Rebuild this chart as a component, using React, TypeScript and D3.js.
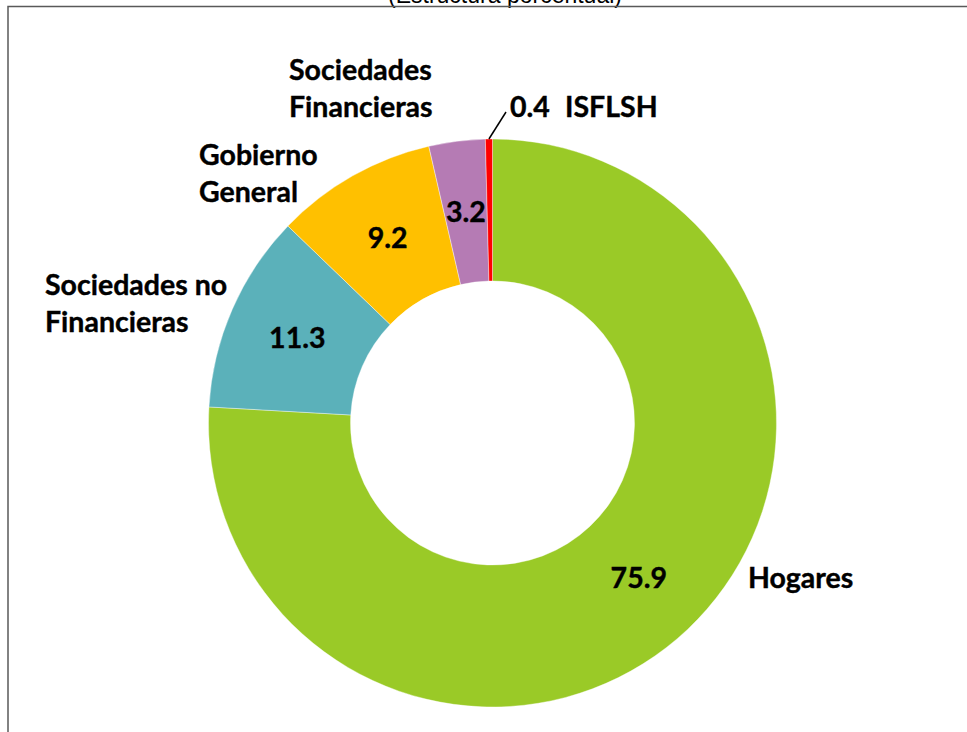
import React from "react";
import * as d3 from "d3";

const width = 967;
const height = 732;

// data
const categories = [
  "Hogares",
  "Sociedades no Financieras",
  "Gobierno General",
  "Sociedades Financieras",
  "ISFLSH",
];
const values = [75.9, 11.3, 9.2, 3.2, 0.4];
const colors = ["#9ACA27", "#5BB1BA", "#FFC000", "#B57BB4", "#FF0000"];
const labelLines = [
  ["Hogares"],
  ["Sociedades no", "Financieras"],
  ["Gobierno", "General"],
  ["Sociedades", "Financieras"],
  ["ISFLSH"],
];

// layout
const cx = 492.5;
const cy = 423;
const outerR = 284;
const innerR = 142;
const font = "Lato, 'Open Sans', sans-serif";
const fontSize = 28.5;
const labelPos = [
  { x: 748, y: 588 },
  { x: 45, y: 295 },
  { x: 199, y: 165 },
  { x: 289, y: 80 },
  { x: 565, y: 117 },
];
const lineGap = 37;

export default function App() {
  const pie = d3
    .pie<number>()
    .sort(null)
    .value((d) => d);
  const arcs = pie(values);
  const arc = d3
    .arc<d3.PieArcDatum<number>>()
    .innerRadius(innerR)
    .outerRadius(outerR);

  // leader line for the thin ISFLSH slice
  const last = arcs[arcs.length - 1];
  const mid = (last.startAngle + last.endAngle) / 2;
  const p0 = [outerR * Math.sin(mid), -outerR * Math.cos(mid)];

  const textProps = {
    fontFamily: font,
    fontWeight: "bold",
    fontSize: fontSize,
    fill: "#000",
    stroke: "#000",
    strokeWidth: 0.4,
  };

  return (
    <div style={{ position: "fixed", left: 0, top: 0 }}>
      <svg width={width} height={height} style={{ display: "block", background: "#fff" }}>
        <text
          x={505}
          y={3}
          textAnchor="middle"
          fontFamily="'Liberation Sans', Arial, sans-serif"
          fontSize={23}
          fill="#000"
        >
          (Estructura porcentual)
        </text>
        <path d={`M8,${height} V6.5 H${width}`} fill="none" stroke="#595959" strokeWidth={1.5} />
        <g transform={`translate(${cx},${cy})`}>
          {arcs.map((a, i) => (
            <path key={categories[i]} d={arc(a) || ""} fill={colors[i]} stroke="#fff" strokeWidth={0.4} />
          ))}
          {arcs.slice(0, 4).map((a, i) => {
            const [x, y] = arc.centroid(a);
            return (
              <text key={"v" + i} x={x} y={y} dy="0.36em" textAnchor="middle" {...textProps}>
                {values[i].toFixed(1)}
              </text>
            );
          })}
          <line
            x1={p0[0]}
            y1={p0[1]}
            x2={506 - cx}
            y2={112 - cy}
            stroke="#000"
            strokeWidth={1.5}
          />
        </g>
        {labelLines.map((lines, i) => (
          <text key={"l" + i} x={labelPos[i].x} y={labelPos[i].y} {...textProps}>
            {lines.map((t, j) => (
              <tspan key={j} x={labelPos[i].x} y={labelPos[i].y + j * lineGap}>
                {t}
              </tspan>
            ))}
          </text>
        ))}
        <text x={510} y={117} {...textProps}>
          {values[4].toFixed(1)}
        </text>
      </svg>
    </div>
  );
}
